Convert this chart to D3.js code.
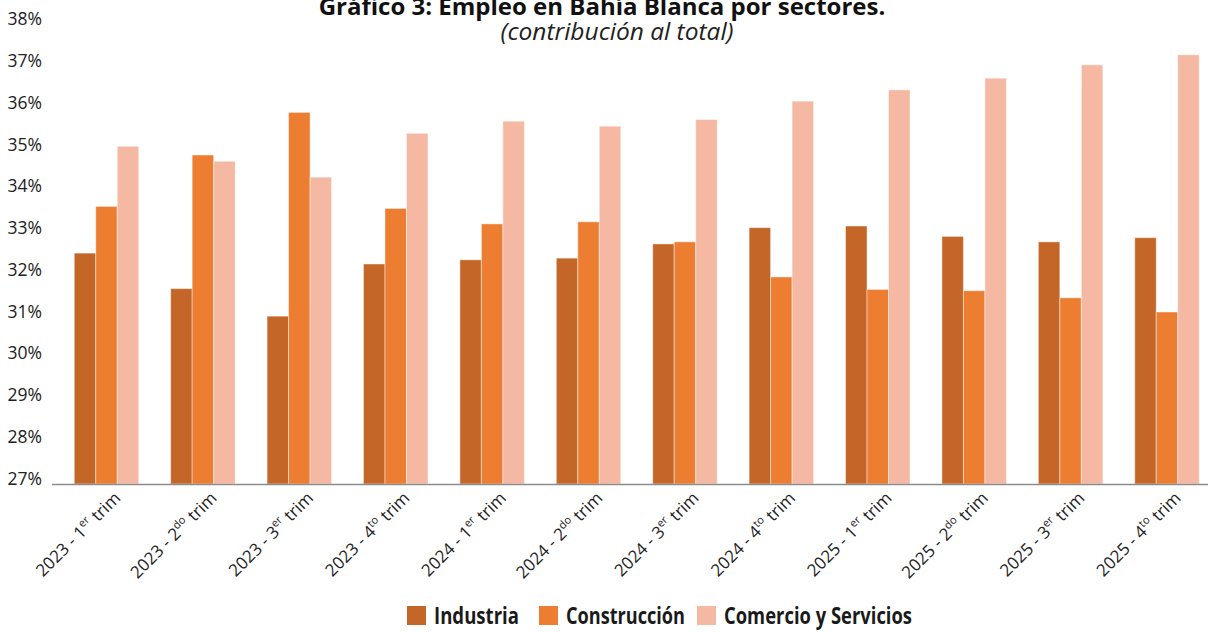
<!DOCTYPE html>
<html>
<head>
<meta charset="utf-8">
<script src="https://cdn.jsdelivr.net/npm/d3@7"></script>
<style>
  body { margin: 0; background: #fff; }
  svg { display: block; font-family: 'Open Sans', sans-serif; }
</style>
</head>
<body>
<div id="chart"></div>
<script>
// data
const categories = [
  '2023 - 1er trim', '2023 - 2do trim', '2023 - 3er trim', '2023 - 4to trim',
  '2024 - 1er trim', '2024 - 2do trim', '2024 - 3er trim', '2024 - 4to trim',
  '2025 - 1er trim', '2025 - 2do trim', '2025 - 3er trim', '2025 - 4to trim'
]
const seriesNames = ['Industria', 'Construcción', 'Comercio y Servicios']
const industria = [32.53, 31.68, 31.02, 32.27, 32.37, 32.41, 32.75, 33.14, 33.18, 32.93, 32.80, 32.90]
const construccion = [33.65, 34.88, 35.90, 33.60, 33.23, 33.28, 32.80, 31.96, 31.66, 31.63, 31.46, 31.12]
const comercio = [35.09, 34.73, 34.35, 35.40, 35.69, 35.57, 35.73, 36.17, 36.44, 36.72, 37.04, 37.28]
const yTicks = [27, 28, 29, 30, 31, 32, 33, 34, 35, 36, 37, 38]
const colors = ['#c46628', '#ed7d31', '#f4b8a3']

const width = 1208
const height = 632

const svg = d3.select('#chart')
  .append('svg')
  .attr('width', width)
  .attr('height', height)

const data = categories.map((c, i) => ({
  cat: c,
  values: [industria[i], construccion[i], comercio[i]]
}))

// scales
const x0 = d3.scaleBand()
  .domain(categories)
  .range([58.3, 1215.2])
  .paddingInner(0.331)
  .paddingOuter(0.1655)

const x1 = d3.scaleBand()
  .domain(d3.range(seriesNames.length))
  .range([0, x0.bandwidth()])

const y = d3.scaleLinear()
  .domain([27, 38])
  .range([484, 24.75])

// y axis labels (no line)
svg.append('g')
  .attr('transform', 'translate(42,0)')
  .call(d3.axisLeft(y).tickValues(yTicks).tickSize(0).tickPadding(0).tickFormat(d => d + '%'))
  .call(g => g.select('.domain').remove())
  .selectAll('text')
  .attr('dy', '0em')
  .style('font-family', "'Open Sans', sans-serif")
  .style('font-size', '17.5px')
  .style('fill', '#222')

// bars
svg.append('g')
  .selectAll('g')
  .data(data)
  .enter()
  .append('g')
  .attr('transform', d => 'translate(' + x0(d.cat) + ',0)')
  .selectAll('rect')
  .data(d => d.values.map((v, k) => ({ k: k, v: v })))
  .enter()
  .append('rect')
  .attr('x', d => x1(d.k))
  .attr('y', d => y(d.v))
  .attr('width', x1.bandwidth())
  .attr('height', d => y(27) - y(d.v))
  .style('fill', d => colors[d.k])
  .style('stroke', 'rgba(255,255,255,0.45)')
  .style('stroke-width', 1)

// x axis line
svg.append('line')
  .attr('x1', 52)
  .attr('x2', width)
  .attr('y1', y(27) + 0.5)
  .attr('y2', y(27) + 0.5)
  .style('stroke', '#8c8c8c')
  .style('stroke-width', 1.4)

// x labels, rotated, with superscript
const xl = svg.append('g')
  .selectAll('text')
  .data(categories)
  .enter()
  .append('text')
  .attr('transform', d => 'translate(' + (x0(d) + x0.bandwidth() / 2 + 15) + ',499) rotate(-45)')
  .attr('text-anchor', 'end')
  .style('font-size', '17px')
  .style('fill', '#222')

xl.each(function(d) {
  const m = d.match(/^(.* \d)(\w+)( trim)$/)
  const t = d3.select(this)
  t.append('tspan').text(m[1])
  t.append('tspan').attr('dy', -7).style('font-size', '11px').text(m[2])
  t.append('tspan').attr('dy', 7).text(m[3])
})

// title
svg.append('text')
  .attr('x', 602)
  .attr('y', 15)
  .attr('text-anchor', 'middle')
  .style('font-size', '24px')
  .style('font-weight', 'bold')
  .style('fill', '#111')
  .text('Gráfico 3: Empleo en Bahía Blanca por sectores.')

svg.append('text')
  .attr('x', 617)
  .attr('y', 40)
  .attr('text-anchor', 'middle')
  .style('font-size', '24.5px')
  .style('font-style', 'italic')
  .style('fill', '#222')
  .text('(contribución al total)')

// legend
const legendX = [407, 539, 697]
const legendW = [85, 119, 188]
const legend = svg.append('g')
  .selectAll('g')
  .data(seriesNames)
  .enter()
  .append('g')
  .attr('transform', (d, i) => 'translate(' + legendX[i] + ',606)')

legend.append('rect')
  .attr('width', 19)
  .attr('height', 19)
  .style('fill', (d, i) => colors[i])

legend.append('text')
  .attr('x', 27)
  .attr('y', 18)
  .attr('textLength', (d, i) => legendW[i])
  .attr('lengthAdjust', 'spacingAndGlyphs')
  .style('font-size', '23px')
  .style('font-weight', 'bold')
  .style('fill', '#1a1a1a')
  .text(d => d)
</script>
</body>
</html>
